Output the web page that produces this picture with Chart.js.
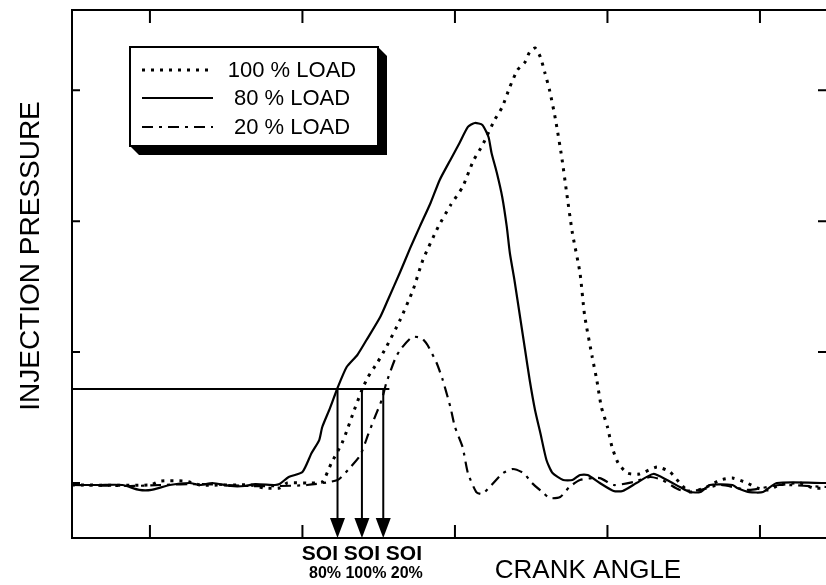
<!DOCTYPE html>
<html>
<head>
<meta charset="utf-8">
<script src="https://cdn.jsdelivr.net/npm/chart.js@4.4.0/dist/chart.umd.min.js"></script>
<style>
  html, body { margin: 0; padding: 0; background: #fff; }
</style>
</head>
<body>
<canvas id="pressureChart" width="826" height="585"></canvas>
<script>
// Crank angle (arbitrary degrees) and injection pressure (arbitrary units)
const load100Angle = [4.9, 10.0, 10.7, 12.3, 13.3, 16.6, 17.5, 18.5, 19.0, 20.5, 21.3, 21.9, 22.6, 23.0, 23.4,
  23.9, 24.3, 24.9, 25.5, 26.4, 27.25, 27.9, 28.9, 29.7, 30.5, 31.2, 31.8, 32.6, 33.1, 33.6,
  34.1, 34.6, 34.9, 35.25, 35.6, 35.9, 36.2, 36.6, 37.0, 37.3, 37.7, 38.2, 38.5, 39.0, 39.3,
  39.6, 40.0, 40.3, 40.7, 41.3, 42.1, 43.25, 44.1, 44.75, 45.4, 46.5, 47.4, 48.2, 49.15, 49.8,
  50.5, 51.3, 52.6, 53.5, 54.4];
const load100Pressure = [-0.15, -0.15, 0.15, 0.15, -0.15, -0.15, -0.38, -0.38, 0, 0, 0.08, 1.53, 3.06, 4.28, 5.58,
  7.1, 8.1, 9.17, 10.39, 12.45, 14.74, 17.04, 19.56, 21.2, 22.61, 24.6, 25.8, 27.73, 28.72, 30.25,
  31.55, 32.16, 32.93, 33.23, 32.54, 31.32, 30.02, 27.73, 24.9, 22.38, 19.1, 16.04, 12.83, 9.63, 7.87,
  5.81, 4.28, 2.75, 1.53, 0.76, 0.69, 1.22, 0.84, 0, -0.69, -0.31, 0.23, 0.38, 0, -0.38,
  -0.53, -0.15, 0, -0.38, -0.38];

const load80Angle = [4.9, 6.7, 8.2, 9.3, 10.1, 11.3, 12.6, 13.3, 14.1, 15.3, 16.2, 16.9, 18.2, 18.5, 19.1,
  20.0, 20.6, 21.1, 21.3, 21.8, 22.3, 22.9, 23.6, 24.2, 25.1, 25.6, 26.4, 27.05, 27.7, 28.4,
  29.0, 29.7, 30.3, 30.85, 31.3, 31.8, 32.2, 32.4, 32.75, 33.1, 33.4, 33.6, 33.9, 34.3, 34.6,
  34.9, 35.25, 35.6, 36.0, 36.4, 37.1, 37.7, 38.2, 38.7, 39.5, 40.4, 41.0, 41.9, 43.0, 43.9,
  44.75, 45.4, 46.1, 46.7, 48.2, 48.5, 49.3, 50.2, 51.1, 54.4];
const load80Pressure = [-0.15, -0.15, -0.15, -0.53, -0.53, -0.15, 0, -0.15, 0, -0.23, -0.23, -0.08, -0.15, -0.08, 0.46,
  0.84, 2.29, 3.28, 4.28, 5.7, 7.26, 8.86, 9.78, 10.92, 12.68, 13.98, 16.1, 17.9, 19.6, 21.39,
  23.15, 24.68, 25.97, 27.2, 27.5, 27.35, 26.43, 25.21, 23.68, 21.85, 19.56, 17.57, 15.51, 12.45, 10.16,
  7.87, 5.58, 3.82, 1.76, 0.76, 0.23, 0.23, 0.61, 0.61, 0, -0.61, -0.61, 0, 0.69, 0.23,
  -0.31, -0.69, -0.69, -0.15, -0.15, -0.38, -0.69, -0.69, 0, 0];

const load20Angle = [4.9, 8.7, 10.7, 13.3, 16.6, 18.5, 20.3, 22.3, 23.1, 23.8, 24.3, 24.75, 25.2, 25.5, 26.1,
  26.5, 27.2, 27.8, 28.2, 28.8, 29.2, 29.7, 30.0, 30.5, 30.85, 31.4, 31.8, 32.4, 33.15, 33.8,
  34.5, 35.05, 35.8, 36.2, 36.9, 37.5, 38.2, 39.5, 40.4, 41.7, 42.8, 43.6, 44.75, 46.1, 47.4,
  49.3, 51.3, 54.4];
const load20Pressure = [-0.15, -0.23, -0.15, -0.08, -0.23, -0.23, -0.15, 0.23, 1.15, 2.14, 3.67, 5.04, 6.34, 7.64, 9.55,
  10.31, 11.15, 11.08, 10.54, 9.17, 7.87, 5.81, 4.28, 2.75, 0.76, -0.69, -0.84, -0.15, 0.76, 1.07,
  0.76, 0, -0.76, -1.15, -1.07, -0.31, 0.23, 0.38, -0.15, 0.08, 0.46, 0.23, -0.53, -0.53, -0.15,
  -0.53, -0.15, -0.31];

const seriesLabels = ['100 % LOAD', '80 % LOAD', '20 % LOAD'];
const angleTicks = [10, 20, 30, 40, 50];
const pressureTicks = [0, 10, 20, 30];

// start of injection marks
const soiLevel = 7.18;
const soiLineEnd = 25.7;
const soiAngles = [22.3, 23.9, 25.3];

const dotted = [3, 6];
const dashDot = [11, 6, 3, 6];
const lineStyles = [
  { dash: dotted, width: 3 },
  { dash: [], width: 2.2 },
  { dash: dashDot, width: 2.2 }
];

function toPoints(xs, ys) {
  return xs.map((v, i) => ({ x: v, y: ys[i] }));
}

const font = '"Liberation Sans", Arial, sans-serif';

// axes frame, ticks, SOI arrows and titles
const decorations = {
  id: 'decorations',
  afterDatasetsDraw(chart) {
    const { ctx, chartArea: a, scales: { x, y } } = chart;
    ctx.save();
    ctx.strokeStyle = '#000';
    ctx.fillStyle = '#000';
    ctx.lineWidth = 2;
    ctx.setLineDash([]);

    ctx.beginPath();
    ctx.moveTo(a.right + 2, a.top);
    ctx.lineTo(a.left, a.top);
    ctx.lineTo(a.left, a.bottom);
    ctx.lineTo(a.right + 2, a.bottom);
    ctx.stroke();

    ctx.beginPath();
    angleTicks.forEach(v => {
      const px = x.getPixelForValue(v);
      ctx.moveTo(px, a.bottom); ctx.lineTo(px, a.bottom - 13);
      ctx.moveTo(px, a.top); ctx.lineTo(px, a.top + 13);
    });
    pressureTicks.forEach(v => {
      const py = y.getPixelForValue(v);
      ctx.moveTo(a.left, py); ctx.lineTo(a.left + 8, py);
      ctx.moveTo(a.right, py); ctx.lineTo(a.right - 8, py);
    });
    ctx.stroke();

    // SOI level line and arrows
    const ly = y.getPixelForValue(soiLevel);
    ctx.beginPath();
    ctx.moveTo(a.left, ly);
    ctx.lineTo(x.getPixelForValue(soiLineEnd), ly);
    soiAngles.forEach(v => {
      const px = x.getPixelForValue(v);
      ctx.moveTo(px, ly);
      ctx.lineTo(px, a.bottom - 18);
    });
    ctx.stroke();
    soiAngles.forEach(v => {
      const px = x.getPixelForValue(v);
      ctx.beginPath();
      ctx.moveTo(px - 7.5, a.bottom - 20);
      ctx.lineTo(px + 7.5, a.bottom - 20);
      ctx.lineTo(px, a.bottom);
      ctx.closePath();
      ctx.fill();
    });

    // labels under arrows
    const mid = x.getPixelForValue(soiAngles[1]);
    ctx.textAlign = 'center';
    ctx.textBaseline = 'alphabetic';
    ctx.font = 'bold 21px ' + font;
    ctx.fillText('SOI SOI SOI', mid, a.bottom + 22);
    ctx.font = 'bold 16px ' + font;
    ctx.fillText('80% 100% 20%', mid + 4, a.bottom + 40);

    // axis titles
    ctx.font = '26px ' + font;
    ctx.fillText('CRANK ANGLE', 588, a.bottom + 40);
    ctx.save();
    ctx.translate(31, 256);
    ctx.rotate(-Math.PI / 2);
    ctx.textBaseline = 'middle';
    ctx.font = '28px ' + font;
    ctx.fillText('INJECTION PRESSURE', 0, 0);
    ctx.restore();

    ctx.restore();
  }
};

// boxed legend with drop shadow
const boxLegend = {
  id: 'boxLegend',
  afterDraw(chart) {
    const { ctx } = chart;
    const left = 130, top = 47, w = 248, h = 99, sh = 9;
    ctx.save();
    ctx.fillStyle = '#000';
    ctx.beginPath();
    ctx.moveTo(left + w, top);
    ctx.lineTo(left + w + sh, top + sh);
    ctx.lineTo(left + w + sh, top + h + sh);
    ctx.lineTo(left + sh, top + h + sh);
    ctx.lineTo(left, top + h);
    ctx.closePath();
    ctx.fill();
    ctx.fillStyle = '#fff';
    ctx.fillRect(left, top, w, h);
    ctx.strokeStyle = '#000';
    ctx.lineWidth = 2;
    ctx.strokeRect(left, top, w, h);

    ctx.font = '22px ' + font;
    ctx.textAlign = 'center';
    ctx.textBaseline = 'middle';
    const rows = [70, 98, 127];
    seriesLabels.forEach((label, i) => {
      ctx.setLineDash(lineStyles[i].dash);
      ctx.lineWidth = lineStyles[i].width;
      ctx.beginPath();
      ctx.moveTo(142, rows[i]);
      ctx.lineTo(213, rows[i]);
      ctx.stroke();
      ctx.fillStyle = '#000';
      ctx.fillText(label, 292, rows[i] + 1);
    });
    ctx.restore();
  }
};

new Chart(document.getElementById('pressureChart'), {
  type: 'line',
  data: {
    datasets: [
      {
        label: seriesLabels[0],
        data: toPoints(load100Angle, load100Pressure),
        borderColor: '#000',
        borderWidth: lineStyles[0].width,
        borderDash: lineStyles[0].dash,
        pointRadius: 0,
        tension: 0.2
      },
      {
        label: seriesLabels[1],
        data: toPoints(load80Angle, load80Pressure),
        borderColor: '#000',
        borderWidth: lineStyles[1].width,
        pointRadius: 0,
        tension: 0.2
      },
      {
        label: seriesLabels[2],
        data: toPoints(load20Angle, load20Pressure),
        borderColor: '#000',
        borderWidth: lineStyles[2].width,
        borderDash: lineStyles[2].dash,
        pointRadius: 0,
        tension: 0.2
      }
    ]
  },
  options: {
    responsive: false,
    animation: false,
    devicePixelRatio: 1,
    layout: { padding: { left: 72, top: 10, right: 0, bottom: 47 } },
    plugins: { legend: { display: false }, tooltip: { enabled: false } },
    scales: {
      x: { type: 'linear', min: 4.89, max: 54.33, display: false },
      y: { type: 'linear', min: -4.2, max: 36.13, display: false }
    }
  },
  plugins: [decorations, boxLegend]
});
</script>
</body>
</html>
